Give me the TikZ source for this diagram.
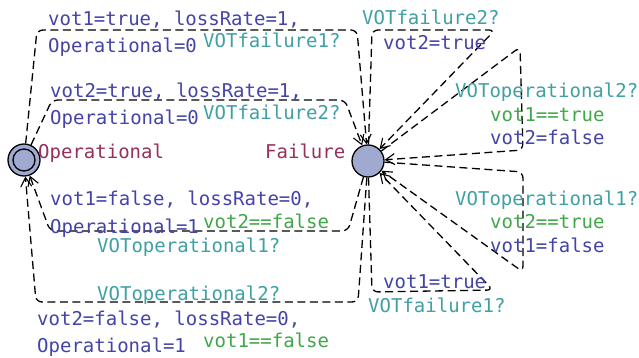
\documentclass[tikz,border=0pt]{standalone}
\usepackage{fontspec}
\setmonofont{DejaVu Sans Mono}
\usetikzlibrary{arrows.meta}
\definecolor{assigncol}{RGB}{68,68,168}
\definecolor{synccol}{RGB}{64,160,164}
\definecolor{guardcol}{RGB}{64,168,72}
\definecolor{namecol}{RGB}{150,48,92}
\definecolor{locfill}{RGB}{160,170,208}
\tikzset{
  location/.style={circle, draw=black, line width=1.3pt, fill=locfill, inner sep=0pt, minimum size=32pt},
  transition/.style={draw=black, line width=1.3pt, dash pattern=on 8pt off 4.5pt, rounded corners=6pt,
    -{Straight Barb[length=9pt,width=11pt,line width=1.1pt]}},
  lbl/.style={inner sep=0pt, anchor=base west, font=\ttfamily\fontsize{19}{22}\selectfont},
  assign/.style={lbl, text=assigncol},
  sync/.style={lbl, text=synccol},
  guard/.style={lbl, text=guardcol},
  locname/.style={lbl, text=namecol}
}
\begin{document}
\begin{tikzpicture}[x=1pt,y=-1pt]
\useasboundingbox (0,0) rectangle (639,358);
\fill[white] (0,0) rectangle (639,358);

% locations
\node[location] (op) at (24,160) {};
\draw[line width=1.3pt] (op.center) circle (11);
\node[location] (fail) at (368,161) {};

% Operational -> Failure
\draw[transition] (op) -- (37,30) -- (357,30) -- (fail);
\draw[transition] (op) -- (52,100) -- (345,100) -- (fail);
% Failure -> Operational
\draw[transition] (fail) -- (348,231) -- (50,231) -- (op);
\draw[transition] (fail) -- (358,302) -- (36,302) -- (op);
% self loops on Failure
\draw[transition] (fail) -- (372,30) -- (495,30) -- (fail);
\draw[transition] (fail) -- (520,47) -- (523,150) -- (fail);
\draw[transition] (fail) -- (523,172) -- (523,272) -- (fail);
\draw[transition] (fail) -- (372,292) -- (493,290) -- (fail);

% location names
\node[locname] (nop) at (38,159) {Operational};
\node[locname] (nfail) at (265,159) {Failure};

% labels of the upper transitions
\node[assign] (a1) at (48,26) {vot1=true, lossRate=1,};
\node[assign] (a1b) at (48,53) {Operational=0};
\node[sync] (s1) at (203,48) {VOTfailure1?};
\node[assign] (a2) at (50,98) {vot2=true, lossRate=1,};
\node[assign] (a2b) at (50,125) {Operational=0};
\node[sync] (s2) at (203,120) {VOTfailure2?};

% labels of the lower transitions
\node[assign] (a3) at (50,205) {vot1=false, lossRate=0,};
\node[assign] (a3b) at (50,233) {Operational=1};
\node[guard] (g3) at (203,228) {vot2==false};
\node[sync] (s3) at (97,252) {VOToperational1?};
\node[sync] (s4) at (97,300) {VOToperational2?};
\node[assign] (a4) at (37,325) {vot2=false, lossRate=0,};
\node[assign] (a4b) at (37,352) {Operational=1};
\node[guard] (g4) at (203,347) {vot1==false};

% labels of the loops
\node[sync] (ls1) at (362,25) {VOTfailure2?};
\node[assign] (la1) at (383,50) {vot2=true};
\node[sync] (ls2) at (455,98) {VOToperational2?};
\node[guard] (lg2) at (490,122) {vot1==true};
\node[assign] (la2) at (490,145) {vot2=false};
\node[sync] (ls3) at (455,205) {VOToperational1?};
\node[guard] (lg3) at (490,228) {vot2==true};
\node[assign] (la3) at (490,252) {vot1=false};
\node[assign] (la4) at (383,288) {vot1=true};
\node[sync] (ls4) at (368,312) {VOTfailure1?};
\end{tikzpicture}
\end{document}
